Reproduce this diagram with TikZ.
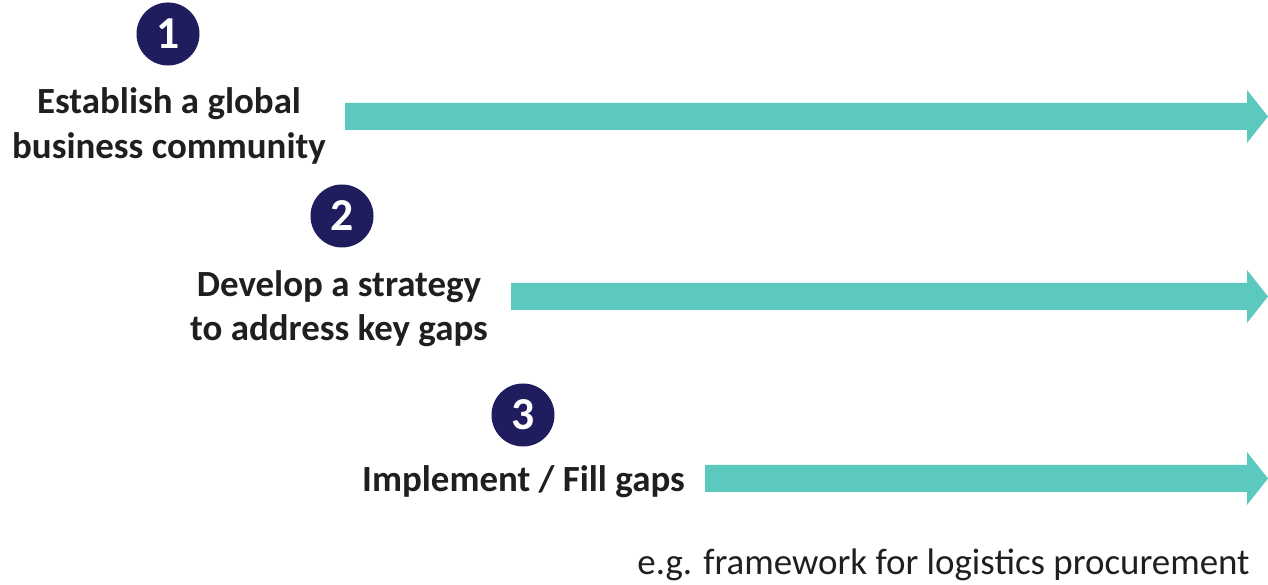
\documentclass[tikz,border=0pt]{standalone}
\usepackage{fontspec}
\setmainfont{Carlito}

\definecolor{stepnavy}{HTML}{1F1D5E}
\definecolor{stepteal}{HTML}{5CC9BF}

\tikzset{
  stepnum/.style={circle,fill=stepnavy,text=white,minimum size=1.26cm,inner sep=0pt,
    font=\fontsize{26}{28}\selectfont\bfseries},
  steptext/.style={align=center,text=black!88,inner sep=0pt,
    font=\fontsize{21}{25.2}\selectfont\bfseries},
  bigarrow/.style={fill=stepteal},
  notetext/.style={inner sep=0pt,text=black!88,font=\fontsize{21}{25}\selectfont}
}

% block arrow from #1 to #2 (shaft 5.4mm, head 10.6mm x 4.2mm)
\newcommand{\stepArrow}[2]{%
  \fill[bigarrow] ([yshift=2.7mm]#1) -- ([xshift=-4.2mm,yshift=2.7mm]#2)
    -- ([xshift=-4.2mm,yshift=5.3mm]#2) -- (#2)
    -- ([xshift=-4.2mm,yshift=-5.3mm]#2) -- ([xshift=-4.2mm,yshift=-2.7mm]#2)
    -- ([yshift=-2.7mm]#1) -- cycle;}

\begin{document}
\begin{tikzpicture}
\useasboundingbox (0,0) rectangle (25.36,11.70);

%Step 1
\node[stepnum] (n1) at (3.36,11.02){1};
\node[steptext] (t1) at (3.38,9.18){Establish a global\\business community};
\coordinate (s1) at (6.90,9.37);
\coordinate (e1) at (25.36,9.37);

%Step 2
\node[stepnum] (n2) at (6.84,7.38){2};
\node[steptext] (t2) at (6.78,5.52){Develop a strategy\\to address key gaps};
\coordinate (s2) at (10.22,5.77);
\coordinate (e2) at (25.36,5.77);

%Step 3
\node[stepnum] (n3) at (10.46,3.40){3};
\node[steptext] (t3) at (10.47,2.07){Implement / Fill gaps};
\coordinate (s3) at (14.10,2.13);
\coordinate (e3) at (25.36,2.13);

\stepArrow{s1}{e1}
\stepArrow{s2}{e2}
\stepArrow{s3}{e3}

%Note
\node[notetext] (note) at (18.87,0.40){e.g. framework for logistics procurement};

\end{tikzpicture}
\end{document}
